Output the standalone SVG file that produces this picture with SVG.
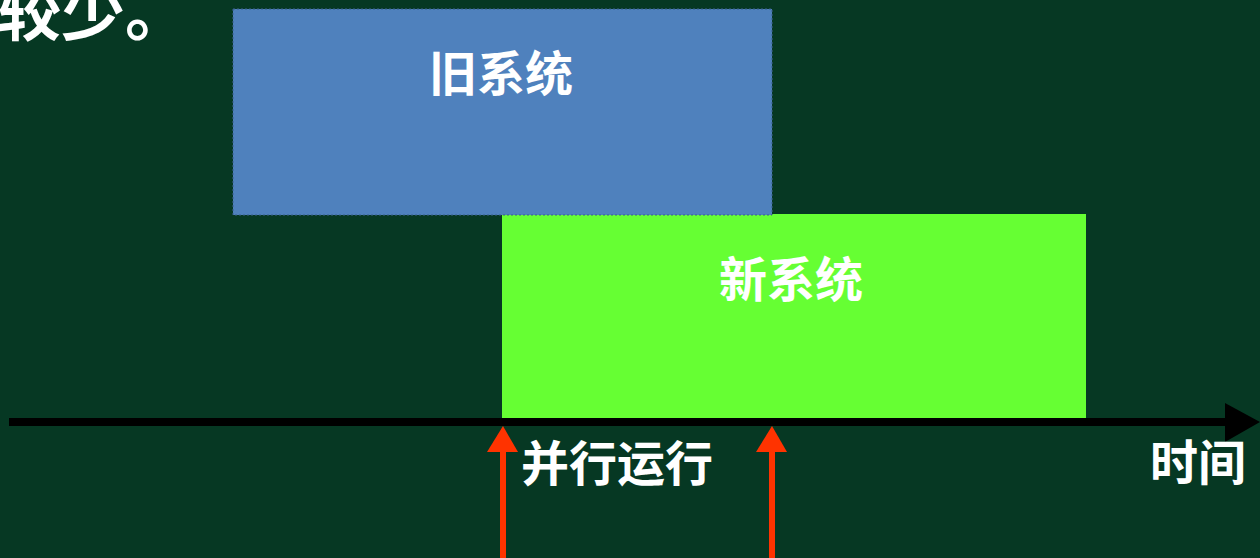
<svg xmlns="http://www.w3.org/2000/svg" width="1260" height="558" viewBox="0 0 1260 558">
<defs>
<style>
.t{font-family:"Noto Sans CJK SC","Noto Sans",sans-serif;font-weight:bold;fill:#FFFFFF;}
.red{fill:#FF3300;}
</style>
</defs>
<rect x="0" y="0" width="1260" height="558" fill="#063823"/>
<text class="t" x="-3" y="35" font-size="64">较少。</text>
<g id="new-system">
<rect x="502" y="214" width="584" height="204" fill="#66FF33"/>
<text class="t" x="791" y="297" font-size="48" text-anchor="middle">新系统</text>
</g>
<g id="old-system">
<rect x="233" y="9" width="539" height="206" fill="#4F81BD" stroke="#3A5F8C" stroke-width="1" stroke-dasharray="2 2"/>
<text class="t" x="501" y="91" font-size="48" text-anchor="middle">旧系统</text>
</g>
<g id="connectors">
<line x1="9" y1="422" x2="1228" y2="422" stroke="#000000" stroke-width="8"/>
<polygon points="1225,403 1260,422 1225,442" fill="#000000"/>
<rect class="red" x="500" y="450" width="6" height="108"/>
<polygon class="red" points="503,426 518,452 487,452"/>
<rect class="red" x="769" y="450" width="6" height="108"/>
<polygon class="red" points="772,426 787,452 756,452"/>
</g>
<g id="label-parallel">
<text class="t" x="521" y="481" font-size="48">并行运行</text>
</g>
<g id="label-time">
<text class="t" x="1150" y="480" font-size="48">时间</text>
</g>
</svg>
